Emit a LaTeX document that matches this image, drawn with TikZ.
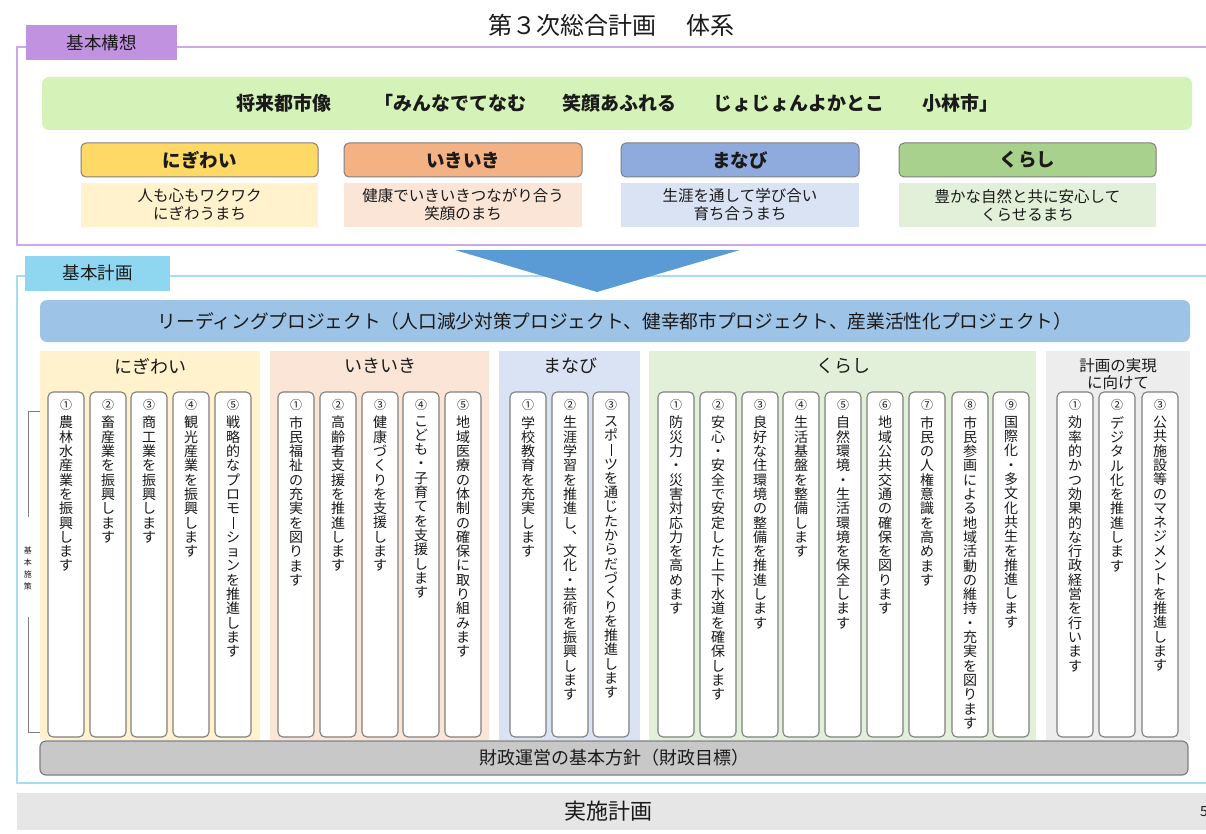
\documentclass[tikz,border=0pt]{standalone}
\usepackage{fontspec}
\setmainfont{Noto Sans CJK JP}
\definecolor{tabP}{HTML}{C092E0}
\definecolor{lineP}{HTML}{CDA8E6}
\definecolor{banner}{HTML}{D5F2B8}
\definecolor{hY}{HTML}{FFD966}
\definecolor{hO}{HTML}{F4B183}
\definecolor{hB}{HTML}{8FAADC}
\definecolor{hG}{HTML}{A9D18E}
\definecolor{lY}{HTML}{FFF2CC}
\definecolor{lO}{HTML}{FBE5D6}
\definecolor{lB}{HTML}{DAE3F3}
\definecolor{lG}{HTML}{E2F0D9}
\definecolor{lGr}{HTML}{EDEDED}
\definecolor{tabC}{HTML}{8FD7F0}
\definecolor{lineC}{HTML}{A8DDF0}
\definecolor{lead}{HTML}{9DC3E6}
\definecolor{arrowB}{HTML}{5B9BD5}
\definecolor{barG}{HTML}{C8C8C8}
\definecolor{implG}{HTML}{E6E6E6}
\definecolor{txt}{HTML}{1A1A1A}
\definecolor{bord}{HTML}{7F7F7F}
\makeatletter
\def\vsEnd{\vsEnd}
\newcommand\vstk[2]{\vbox{\baselineskip=#1pt\lineskiplimit=-20pt\lineskip=0pt\vstk@a#2\vsEnd}}
\def\vstk@a#1{\ifx\vsEnd#1\else\hbox to 36pt{\hss#1\hss}\expandafter\vstk@a\fi}
\makeatother
\newcommand\vbar{\raisebox{-1pt}{\rule{0.9pt}{12pt}}}
\tikzset{
  every node/.style={text=txt},
  tabbox/.style={minimum width=#1, minimum height=35, inner sep=0, font=\fontsize{17.5}{19}\selectfont},
  phead/.style={draw=bord, line width=1, rounded corners=5, minimum width=#1, minimum height=34, inner sep=0, font=\fontsize{18.5}{20}\selectfont\bfseries},
  pdesc/.style={minimum width=#1, minimum height=44, inner sep=0, align=center, font=\fontsize{15.5}{18}\selectfont},
  colbg/.style={inner sep=0, minimum height=389, minimum width=#1},
  collabel/.style={font=\fontsize{18}{20}\selectfont, align=center},
  itembox/.style={draw=bord, line width=1.1, fill=white, rounded corners=5, minimum width=36, minimum height=345, inner sep=0},
  inum/.style={font=\fontsize{12}{12}\selectfont, inner sep=0},
  itxt/.style={font=\fontsize{14}{14}\selectfont, inner sep=0, anchor=north},
}
\newcommand\ib[4]{%
  \node[itembox] (#1) at ({#2+18},564.5) {};
  \node[inum] (#1n) at ({#2+18},405) {#3};
  \node[itxt] (#1t) at ({#2+18},416) {\vstk{14.3}{#4}};
}
\begin{document}
\begin{tikzpicture}[x=1pt,y=-1pt]
\useasboundingbox (0,0) rectangle (1206,834);
\fill[white] (0,0) rectangle (1206,834);

% title
\node[font=\fontsize{24}{26}\selectfont] (title) at (611,25) {第３次総合計画\hspace{6pt}　体系};

% 基本構想 frame
\draw[lineP, line width=1.5] (1206,47) -- (17,47) -- (17,245) -- (1206,245);
\node[tabbox=151, fill=tabP] (kousou) at (101.5,42.5) {基本構想};

\node[fill=banner, rounded corners=7, minimum width=1150, minimum height=53, inner sep=0,
      font=\fontsize{19}{20}\selectfont\bfseries] (vision) at (617,103.5)
      {将来都市像\hspace{6pt}　\hspace{18pt}「みんなでてなむ　\hspace{18pt}笑顔あふれる　\hspace{18pt}じょじょんよかとこ　\hspace{18pt}小林市」};

\node[phead=237, fill=hY] (h1) at (199.5,160) {にぎわい};
\node[phead=238, fill=hO] (h2) at (463,160) {いきいき};
\node[phead=238, fill=hB] (h3) at (740,160) {まなび};
\node[phead=257, fill=hG] (h4) at (1027.5,160) {くらし};
\node[pdesc=237, fill=lY] (d1) at (199.5,205) {人も心もワクワク\\にぎわうまち};
\node[pdesc=238, fill=lO] (d2) at (463,205) {健康でいきいきつながり合う\\笑顔のまち};
\node[pdesc=238, fill=lB] (d3) at (740,205) {生涯を通して学び合い\\育ち合うまち};
\node[pdesc=257, fill=lG] (d4) at (1027.5,205) {豊かな自然と共に安心して\\くらせるまち};

% 基本計画 frame
\draw[lineC, line width=1.5] (1206,276) -- (17,276) -- (17,783) -- (1206,783);
\node[tabbox=145, fill=tabC] (keikaku) at (97.5,273) {基本計画};

% arrow
\fill[arrowB] (455,250) -- (740,250) -- (597,292) -- cycle;

\node[fill=lead, rounded corners=7, minimum width=1150, minimum height=42, inner sep=0,
      font=\fontsize{18.7}{20}\selectfont] (leading) at (615,321)
      {リーディングプロジェクト（人口減少対策プロジェクト、健幸都市プロジェクト、産業活性化プロジェクト）};

% column backgrounds
\node[colbg=220, fill=lY] (c1) at (150,545.5) {};
\node[colbg=219, fill=lO] (c2) at (379.5,545.5) {};
\node[colbg=141, fill=lB] (c3) at (569.5,545.5) {};
\node[colbg=387, fill=lG] (c4) at (842.5,545.5) {};
\node[colbg=144, fill=lGr] (c5) at (1118,545.5) {};
\node[collabel] (l1) at (150,366) {にぎわい};
\node[collabel] (l2) at (380,366) {いきいき};
\node[collabel] (l3) at (570,366) {まなび};
\node[collabel] (l4) at (843,366) {くらし};
\node[collabel, font=\fontsize{15.5}{17}\selectfont] (l5) at (1118,374) {計画の実現\\に向けて};

% items
\ib{n1}{48}{①}{農林水産業を振興します}
\ib{n2}{90}{②}{畜産業を振興します}
\ib{n3}{131}{③}{商工業を振興します}
\ib{n4}{173}{④}{観光産業を振興します}
\ib{n5}{215}{⑤}{戦略的なプロモ\vbar ションを推進します}
\ib{i1}{278}{①}{市民福祉の充実を図ります}
\ib{i2}{320}{②}{高齢者支援を推進します}
\ib{i3}{362}{③}{健康づくりを支援します}
\ib{i4}{403}{④}{こども・子育てを支援します}
\ib{i5}{445}{⑤}{地域医療の体制の確保に取り組みます}
\ib{m1}{510}{①}{学校教育を充実します}
\ib{m2}{552}{②}{生涯学習を推進し︑文化・芸術を振興します}
\ib{m3}{593}{③}{スポ\vbar ツを通じたからだづくりを推進します}
\ib{k1}{658}{①}{防災力・災害対応力を高めます}
\ib{k2}{700}{②}{安心・安全で安定した上下水道を確保します}
\ib{k3}{742}{③}{良好な住環境の整備を推進します}
\ib{k4}{783}{④}{生活基盤を整備します}
\ib{k5}{825}{⑤}{自然環境・生活環境を保全します}
\ib{k6}{867}{⑥}{地域公共交通の確保を図ります}
\ib{k7}{909}{⑦}{市民の人権意識を高めます}
\ib{k8}{952}{⑧}{市民参画による地域活動の維持・充実を図ります}
\ib{k9}{993}{⑨}{国際化・多文化共生を推進します}
\ib{j1}{1057}{①}{効率的かつ効果的な行政経営を行います}
\ib{j2}{1099}{②}{デジタル化を推進します}
\ib{j3}{1142}{③}{公共施設等のマネジメントを推進します}

% bracket 基本施策
\coordinate (bt) at (40,411);
\coordinate (bb) at (40,732);
\node[inner sep=0, font=\fontsize{8}{8}\selectfont] (sesaku) at (28,568) {\vbox{\baselineskip=12pt\hbox to 10pt{\hss 基\hss}\hbox to 10pt{\hss 本\hss}\hbox to 10pt{\hss 施\hss}\hbox to 10pt{\hss 策\hss}}};
\draw[bord, line width=0.8] (bt) -- (28,411) -- (28,517);
\draw[bord, line width=0.8] (28,617) -- (28,732) -- (bb);

% finance bar
\node[draw=bord, line width=1.2, fill=barG, rounded corners=6, minimum width=1148, minimum height=34, inner sep=0,
      font=\fontsize{18}{19}\selectfont] (zaisei) at (614,758) {財政運営の基本方針（財政目標）};

% implementation plan
\node[fill=implG, minimum width=1189, minimum height=37, inner sep=0, anchor=west] (jisshi) at (17,811.5) {};
\node[font=\fontsize{22}{24}\selectfont, inner sep=0] (jisshit) at (608,811) {実施計画};
\node[font=\fontsize{14}{14}\selectfont, anchor=west, inner sep=0] (page) at (1200,812) {5};
\end{tikzpicture}
\end{document}
